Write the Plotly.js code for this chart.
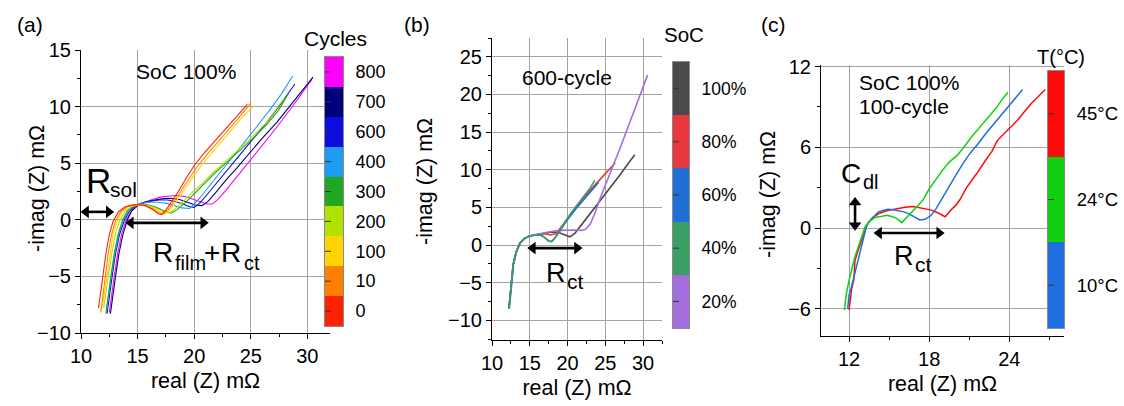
<!DOCTYPE html>
<html>
<head>
<meta charset="utf-8">
<script src="https://cdn.plot.ly/plotly-3.0.1.min.js"></script>
<style>html,body{margin:0;padding:0;background:#fff;}#chart{width:1124px;height:406px;}</style>
</head>
<body>
<div id="chart"></div>
<script>
// ---------- Panel (a): cycles, SoC 100% ----------
const cycleLabels = ['0', '10', '100', '200', '300', '400', '600', '700', '800'];
const cycleColors = ['#ff2200', '#ff8000', '#ffd400', '#b2e000', '#20a820', '#1e9cf2', '#0c0cdc', '#00007a', '#ff00ff'];

const a0x = [11.55, 11.75, 11.95, 12.2, 12.5, 12.85, 13.3, 13.9, 14.5, 15.1, 15.7, 16.3, 16.8, 17.1, 17.5, 18.0, 18.6, 19.3, 20.0, 20.8, 21.7, 22.7, 23.7, 24.7];
const a0y = [-7.8, -6.3, -4.9, -3.0, -1.3, -0.1, 0.7, 1.15, 1.3, 1.35, 1.25, 0.95, 0.55, 0.45, 0.85, 1.6, 2.5, 3.7, 4.8, 5.8, 6.8, 8.0, 9.1, 10.2];
const a10x = [11.75, 11.95, 12.15, 12.4, 12.7, 13.05, 13.5, 14.0, 14.6, 15.2, 15.8, 16.4, 16.9, 17.25, 17.7, 18.2, 18.8, 19.5, 20.2, 21.0, 21.9, 22.9, 24.0, 25.0];
const a10y = [-8.2, -6.5, -5.0, -3.0, -1.3, -0.1, 0.7, 1.1, 1.3, 1.35, 1.2, 0.9, 0.6, 0.5, 0.9, 1.6, 2.5, 3.6, 4.6, 5.6, 6.6, 7.8, 9.1, 10.3];
const a100x = [11.9, 12.1, 12.3, 12.55, 12.85, 13.2, 13.6, 14.1, 14.7, 15.3, 15.9, 16.5, 17.0, 17.4, 17.9, 18.4, 19.0, 19.7, 20.4, 21.2, 22.1, 23.1, 24.2, 25.3];
const a100y = [-7.6, -6.2, -4.8, -2.9, -1.2, -0.1, 0.65, 1.1, 1.3, 1.35, 1.25, 0.95, 0.65, 0.55, 0.9, 1.6, 2.5, 3.5, 4.5, 5.5, 6.5, 7.7, 9.0, 10.1];
const a200x = [12.0, 12.2, 12.45, 12.75, 13.05, 13.45, 13.9, 14.4, 15.0, 15.6, 16.2, 16.8, 17.3, 17.8, 18.3, 19.0, 19.8, 20.7, 21.7, 22.7, 23.8, 25.0, 26.3, 27.3, 28.0];
const a200y = [-7.8, -6.3, -4.7, -2.8, -1.2, 0.0, 0.75, 1.15, 1.3, 1.3, 1.15, 0.9, 0.7, 0.6, 0.95, 1.6, 2.4, 3.2, 4.2, 5.1, 6.1, 7.2, 8.5, 9.9, 10.8];
const a300x = [12.2, 12.4, 12.65, 12.95, 13.3, 13.7, 14.1, 14.6, 15.2, 15.8, 16.4, 17.0, 17.5, 18.0, 18.5, 19.2, 20.0, 20.9, 21.9, 22.9, 24.0, 25.2, 26.4, 27.4, 28.3];
const a300y = [-8.3, -6.6, -4.9, -2.9, -1.2, 0.05, 0.8, 1.2, 1.35, 1.35, 1.2, 0.95, 0.7, 0.6, 0.9, 1.5, 2.3, 3.2, 4.2, 5.1, 6.1, 7.2, 8.4, 9.6, 11.1];
const a400x = [12.25, 12.45, 12.7, 13.0, 13.35, 13.75, 14.2, 14.7, 15.3, 16.0, 16.8, 17.6, 18.3, 18.9, 19.6, 20.1, 20.8, 21.6, 22.5, 23.5, 24.5, 25.5, 26.6, 27.7, 28.7];
const a400y = [-8.0, -6.4, -4.8, -2.9, -1.2, 0.0, 0.8, 1.25, 1.45, 1.55, 1.55, 1.45, 1.25, 1.05, 1.0, 1.5, 2.3, 3.3, 4.4, 5.6, 6.9, 8.2, 9.6, 11.1, 12.7];
const a600x = [12.3, 12.5, 12.75, 13.05, 13.4, 13.85, 14.3, 14.8, 15.4, 16.1, 16.9, 17.7, 18.4, 19.1, 19.6, 20.0, 20.5, 21.2, 22.0, 23.0, 24.0, 25.0, 26.1, 27.4, 28.9];
const a600y = [-8.3, -6.7, -5.0, -3.0, -1.3, 0.0, 0.8, 1.25, 1.5, 1.65, 1.75, 1.75, 1.6, 1.35, 1.15, 1.1, 1.5, 2.3, 3.3, 4.5, 5.7, 6.9, 8.2, 9.9, 12.0];
const a700x = [12.6, 12.8, 13.05, 13.35, 13.7, 14.1, 14.5, 15.0, 15.6, 16.3, 17.1, 17.9, 18.7, 19.4, 20.1, 20.7, 21.2, 21.9, 22.8, 23.8, 24.9, 26.0, 27.3, 28.8, 30.5];
const a700y = [-8.3, -6.7, -5.0, -3.0, -1.3, 0.0, 0.8, 1.25, 1.5, 1.7, 1.85, 1.9, 1.8, 1.55, 1.3, 1.25, 1.6, 2.4, 3.5, 4.6, 5.9, 7.2, 8.6, 10.5, 12.6];
const a800x = [12.5, 12.7, 12.95, 13.25, 13.6, 14.0, 14.45, 14.95, 15.6, 16.3, 17.0, 17.8, 18.5, 19.2, 19.9, 20.6, 21.1, 21.6, 22.1, 22.8, 23.7, 24.7, 25.8, 27.0, 28.6, 30.4];
const a800y = [-8.2, -6.6, -4.9, -2.9, -1.2, 0.0, 0.8, 1.25, 1.55, 1.8, 2.0, 2.1, 2.15, 2.05, 1.8, 1.55, 1.4, 1.4, 1.8, 2.6, 3.7, 4.9, 6.3, 7.8, 9.9, 12.4];

// ---------- Panel (b): SoC, 600-cycle ----------
const socLabels = ['20%', '40%', '60%', '80%', '100%'];
const socColors = ['#a46ddc', '#3a9f63', '#1f6fd6', '#e8383d', '#4a4a4a'];

const b100x = [12.25, 12.5, 12.8, 13.2, 13.7, 14.3, 15.0, 16.0, 17.0, 18.0, 19.0, 19.7, 20.3, 21.0, 22.0, 23.0, 24.0, 25.0, 26.0, 27.0, 28.0, 28.9];
const b100y = [-8.4, -5.5, -2.6, -0.9, 0.3, 0.9, 1.2, 1.4, 1.6, 1.75, 1.6, 1.3, 1.1, 1.6, 2.9, 4.1, 5.4, 6.8, 8.1, 9.4, 10.8, 12.0];
const b80x = [12.25, 12.5, 12.8, 13.2, 13.7, 14.3, 15.0, 16.0, 17.0, 17.7, 18.4, 19.0, 20.0, 21.0, 22.0, 23.0, 24.0, 25.0, 26.3];
const b80y = [-8.4, -5.5, -2.6, -0.9, 0.3, 0.9, 1.2, 1.4, 1.5, 1.35, 1.5, 2.2, 3.5, 4.8, 6.0, 7.3, 8.4, 9.5, 10.9];
const b60x = [12.25, 12.5, 12.8, 13.2, 13.7, 14.3, 15.0, 15.8, 16.5, 17.0, 17.5, 17.9, 18.3, 19.0, 20.0, 21.0, 22.0, 23.0, 24.1];
const b60y = [-8.4, -5.5, -2.6, -0.9, 0.3, 0.9, 1.2, 1.35, 1.3, 1.0, 0.55, 0.5, 0.9, 1.9, 3.4, 4.7, 5.9, 7.1, 8.3];
const b40x = [12.25, 12.5, 12.8, 13.2, 13.7, 14.3, 15.0, 15.8, 16.5, 17.0, 17.5, 17.9, 18.3, 19.0, 20.0, 21.0, 22.0, 23.0, 23.6];
const b40y = [-8.4, -5.5, -2.6, -0.9, 0.3, 0.9, 1.2, 1.35, 1.3, 1.0, 0.5, 0.45, 0.9, 2.0, 3.6, 5.0, 6.3, 7.6, 8.6];
const b20x = [12.3, 12.55, 12.85, 13.25, 13.75, 14.35, 15.0, 16.0, 17.0, 18.0, 19.0, 20.0, 21.0, 21.8, 22.4, 23.0, 23.6, 24.3, 25.5, 27.0, 28.5, 30.6];
const b20y = [-8.4, -5.5, -2.6, -0.9, 0.3, 0.9, 1.2, 1.45, 1.7, 1.85, 1.95, 2.0, 2.0, 1.95, 2.1, 2.8, 4.2, 6.2, 9.2, 13.0, 17.0, 22.6];

// ---------- Panel (c): temperature, SoC 100%, 100-cycle ----------
const tempLabels = ['10°C', '24°C', '45°C'];
const tempColors = ['#1f6fe0', '#10d010', '#ff0a0a'];

const c10x = [11.9, 12.0, 12.15, 12.3, 12.55, 12.8, 13.05, 13.3, 13.6, 13.9, 14.2, 14.55, 14.9, 15.3, 15.7, 16.1, 16.5, 16.9, 17.3, 17.7, 18.1, 18.5, 18.9, 19.3, 19.7, 20.1, 20.6, 21.1, 21.7, 22.3, 22.9, 23.5, 24.1, 24.6, 25.0];
const c10y = [-6.0, -5.0, -4.5, -3.9, -3.0, -2.1, -1.1, 0.1, 0.6, 0.9, 1.2, 1.3, 1.4, 1.35, 1.3, 1.2, 1.05, 0.85, 0.6, 0.65, 0.9, 1.4, 2.1, 2.8, 3.5, 4.1, 4.9, 5.6, 6.3, 7.1, 7.8, 8.5, 9.2, 9.8, 10.3];
const c24x = [11.65, 11.8, 12.0, 12.2, 12.45, 12.8, 13.2, 13.6, 14.0, 14.4, 14.8, 15.2, 15.6, 15.95, 16.3, 16.7, 17.1, 17.55, 18.0, 18.5, 19.0, 19.5, 20.1, 20.6, 21.2, 21.8, 22.4, 23.0, 23.5, 23.9];
const c24y = [-6.1, -4.9, -3.9, -3.0, -2.1, -1.1, 0.1, 0.55, 0.8, 0.85, 0.95, 0.85, 0.7, 0.4, 0.75, 1.2, 1.6, 2.1, 2.9, 3.6, 4.3, 4.9, 5.4, 6.0, 6.8, 7.5, 8.2, 8.9, 9.6, 10.1];
const c45x = [12.0, 12.1, 12.2, 12.35, 12.45, 12.7, 13.05, 13.4, 13.8, 14.3, 14.9, 15.6, 16.2, 16.8, 17.4, 18.1, 18.6, 19.2, 19.6, 20.0, 20.3, 20.8, 21.3, 21.6, 22.2, 22.7, 23.1, 23.6, 24.1, 24.6, 25.1, 25.6, 26.1, 26.7];
const c45y = [-6.1, -5.2, -4.5, -3.9, -2.4, -1.6, -0.65, 0.35, 0.8, 1.1, 1.3, 1.45, 1.55, 1.6, 1.5, 1.35, 1.15, 0.84, 1.3, 1.7, 2.1, 3.0, 3.7, 4.1, 5.0, 5.7, 6.5, 7.0, 7.5, 8.0, 8.6, 9.2, 9.7, 10.3];

// ---------- build ----------
const FONT = 'Liberation Sans, Arial, sans-serif';
const traces = [];
function line(x, y, color, w, xa, ya, name) {
  traces.push({type: 'scatter', mode: 'lines', x: x, y: y, name: name,
    line: {color: color, width: w}, xaxis: xa, yaxis: ya, hoverinfo: 'x+y+name'});
}
const aX = [a0x, a10x, a100x, a200x, a300x, a400x, a600x, a700x, a800x];
const aY = [a0y, a10y, a100y, a200y, a300y, a400y, a600y, a700y, a800y];
for (let i = aX.length - 1; i >= 0; i--) line(aX[i], aY[i], cycleColors[i], 1.1, 'x', 'y', cycleLabels[i]);

const bX = [b20x, b40x, b60x, b80x, b100x];
const bY = [b20y, b40y, b60y, b80y, b100y];
[4, 3, 0, 2, 1].forEach(i => line(bX[i], bY[i], socColors[i], 1.6, 'x2', 'y2', socLabels[i]));

const cX = [c10x, c24x, c45x];
const cY = [c10y, c24y, c45y];
[2, 0, 1].forEach(i => line(cX[i], cY[i], tempColors[i], 1.5, 'x3', 'y3', tempLabels[i]));

// double-headed arrows drawn as line traces with triangle end markers
function arrowTrace(x0, y0, x1, y1, xa, ya, vertical) {
  traces.push({type: 'scatter', mode: 'lines+markers', x: [x0, x1], y: [y0, y1], xaxis: xa, yaxis: ya,
    line: {color: '#000', width: 2.6}, hoverinfo: 'skip',
    marker: {color: '#000', size: 11, symbol: vertical ? ['triangle-down', 'triangle-up'] : ['triangle-left', 'triangle-right']}});
}
arrowTrace(10.45, 0.7, 12.45, 0.7, 'x', 'y', false);
arrowTrace(14.4, -0.27, 20.8, -0.27, 'x', 'y', false);
arrowTrace(15.4, -0.4, 21.25, -0.4, 'x2', 'y2', false);
arrowTrace(12.45, 0.2, 12.45, 1.9, 'x3', 'y3', true);
arrowTrace(14.25, -0.37, 18.75, -0.37, 'x3', 'y3', false);

// discrete colour bars drawn as one-column heatmaps, with small inner ticks at each label
function colorbarTrace(colors, labels, xa, ya, tickX) {
  const n = colors.length;
  const cs = [];
  colors.forEach((c, i) => { cs.push([i / n, c]); cs.push([(i + 1) / n, c]); });
  const idx = labels.map((_, i) => i);
  traces.push({type: 'heatmap', x: [0], y: idx, z: idx.map(i => [i]),
    zmin: -0.5, zmax: n - 0.5, colorscale: cs, showscale: false, xaxis: xa, yaxis: ya,
    hoverinfo: 'skip'});
  traces.push({type: 'scatter', mode: 'markers', x: idx.map(() => tickX), y: idx, xaxis: xa, yaxis: ya,
    marker: {symbol: 'line-ew', size: 5, line: {color: '#333', width: 1}}, hoverinfo: 'skip'});
}
colorbarTrace(cycleColors, cycleLabels, 'x4', 'y4', -0.36);
colorbarTrace(socColors, socLabels, 'x5', 'y5', -0.34);
colorbarTrace(tempColors, tempLabels, 'x6', 'y6', -0.34);

const H = 406, W = 1124;
const px = v => v / W;
const py = v => (H - v) / H;

function mainAxis(domain, range, tickvals, minorDtick, title) {
  const a = {domain: domain, range: range, tickvals: tickvals, ticks: 'outside', ticklen: 5, tickwidth: 1,
    tickcolor: '#000', showline: true, linecolor: '#000', linewidth: 1, showgrid: true,
    gridcolor: '#a3a3a3', gridwidth: 1, zeroline: false, tickfont: {family: FONT, size: 20, color: '#000'},
    minor: {ticks: 'outside', ticklen: 3, dtick: minorDtick, tickcolor: '#000', showgrid: false},
    fixedrange: true};
  if (title) a.title = {text: title, font: {family: FONT, size: 21.5, color: '#000'}, standoff: 6};
  return a;
}
function cbAxes(n, xd, yd, fs) {
  return [
    {domain: xd, range: [-0.5, 0.5], showticklabels: false, ticks: '', showgrid: false, zeroline: false,
      showline: true, mirror: true, linecolor: '#8a8a8a', linewidth: 1, fixedrange: true},
    {domain: yd, range: [-0.5, n - 0.5], side: 'right', showgrid: false, zeroline: false,
      showline: true, mirror: true, linecolor: '#8a8a8a', linewidth: 1, fixedrange: true,
      ticks: 'outside', ticklen: 8, tickcolor: 'rgba(0,0,0,0)', tickfont: {family: FONT, size: fs, color: '#000'}}
  ];
}

const ax = mainAxis([px(81), px(330)], [10, 32], [10, 15, 20, 25, 30], 2.5, 'real (Z) mΩ');
const ay = mainAxis([py(333), py(50)], [-10, 15], [-10, -5, 0, 5, 10, 15], 2.5, null);
const bx = mainAxis([px(492), px(662)], [10, 32.5], [10, 15, 20, 25, 30], 2.5, 'real (Z) mΩ');
const by = mainAxis([py(340), py(38)], [-12.6, 27.5], [-10, -5, 0, 5, 10, 15, 20, 25], 2.5, null);
const cx = mainAxis([px(821), px(1064)], [9.9, 28.1], [12, 18, 24], 3, 'real (Z) mΩ');
const cy = mainAxis([py(336), py(65)], [-8.03, 12.12], [-6, 0, 6, 12], 3, null);
ax.anchor = 'y'; ay.anchor = 'x';
bx.anchor = 'y2'; by.anchor = 'x2';
cx.anchor = 'y3'; cy.anchor = 'x3';

const [x4, y4] = cbAxes(cycleLabels.length, [px(325), px(343)], [py(326), py(57)], 18);
const [x5, y5] = cbAxes(socLabels.length, [px(673), px(689)], [py(328), py(62)], 17.5);
const [x6, y6] = cbAxes(tempLabels.length, [px(1048), px(1064)], [py(328), py(71)], 18.5);
x4.anchor = 'y4'; y4.anchor = 'x4'; y4.tickvals = cycleLabels.map((_, i) => i); y4.ticktext = cycleLabels;
x5.anchor = 'y5'; y5.anchor = 'x5'; y5.tickvals = socLabels.map((_, i) => i); y5.ticktext = socLabels;
x6.anchor = 'y6'; y6.anchor = 'x6'; y6.tickvals = tempLabels.map((_, i) => i); y6.ticktext = tempLabels;

function txt(text, x, y, xref, yref, size, opts) {
  return Object.assign({text: text, x: x, y: y, xref: xref, yref: yref, showarrow: false,
    xanchor: 'center', yanchor: 'middle',
    font: {family: FONT, size: size, color: '#000'}}, opts || {});
}
// paper-pixel text helper (x, y in page pixels)
function ptxt(text, x, y, size, xanchor) {
  return txt(text, px(x), py(y), 'paper', 'paper', size, {xanchor: xanchor || 'center'});
}

const annotations = [
  ptxt('(a)', 30, 25, 21),
  ptxt('(b)', 417, 25, 21),
  ptxt('(c)', 774, 25, 21),
  ptxt('Cycles', 335, 38, 21),
  ptxt('SoC', 684, 35, 20.5),
  ptxt('T(°C)', 1061, 57, 20),
  txt('-imag (Z) mΩ', px(37), py(189), 'paper', 'paper', 21.5, {textangle: -90}),
  txt('-imag (Z) mΩ', px(425), py(182), 'paper', 'paper', 21.5, {textangle: -90}),
  txt('-imag (Z) mΩ', px(768), py(195), 'paper', 'paper', 21.5, {textangle: -90}),
  txt('SoC 100%', 19.3, 13.1, 'x', 'y', 21),
  txt('600-cycle', 19.9, 22.3, 'x2', 'y2', 21),
  txt('SoC 100%', 12.6, 10.85, 'x3', 'y3', 21, {xanchor: 'left'}),
  txt('100-cycle', 12.6, 9.0, 'x3', 'y3', 21, {xanchor: 'left'}),
  // R_sol
  ptxt('R', 98, 181, 35), ptxt('sol', 108, 189, 21, 'left'),
  // R_film + R_ct
  ptxt('R', 162.5, 253, 28), ptxt('film', 173, 263, 20, 'left'),
  ptxt('+', 212, 253, 28), ptxt('R', 231, 253, 28), ptxt('ct', 242, 263, 20, 'left'),
  // (b) R_ct
  ptxt('R', 556, 272.5, 27), ptxt('ct', 565, 281.5, 21, 'left'),
  // (c) C_dl and R_ct
  ptxt('C', 851, 173, 28), ptxt('dl', 861, 182, 20, 'left'),
  ptxt('R', 904, 255.5, 27), ptxt('ct', 913, 264.5, 21, 'left')
];

const layout = {
  width: W, height: H, margin: {l: 0, r: 0, t: 0, b: 0},
  paper_bgcolor: '#fff', plot_bgcolor: 'rgba(0,0,0,0)', showlegend: false,
  font: {family: FONT, color: '#000'},
  xaxis: ax, yaxis: ay, xaxis2: bx, yaxis2: by, xaxis3: cx, yaxis3: cy,
  xaxis4: x4, yaxis4: y4, xaxis5: x5, yaxis5: y5, xaxis6: x6, yaxis6: y6,
  annotations: annotations
};
Plotly.newPlot('chart', traces, layout, {displayModeBar: false, staticPlot: true});
</script>
</body>
</html>
